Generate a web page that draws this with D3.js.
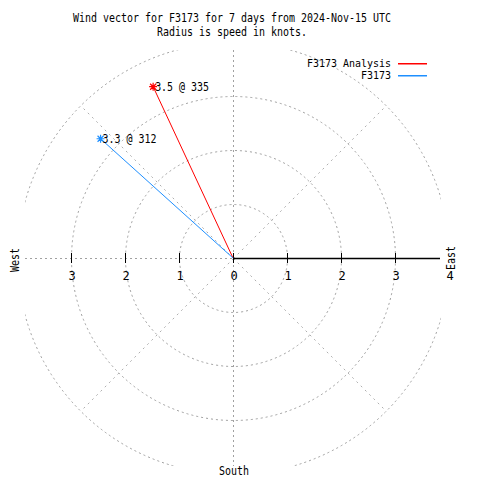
<!DOCTYPE html>
<html><head><meta charset="utf-8">
<script src="https://cdn.jsdelivr.net/npm/d3@7"></script>
<style>
html,body{margin:0;padding:0;background:#fff;}
text{font-family:"DejaVu Sans Mono","Liberation Mono",monospace;font-size:12px;fill:#000;}
</style></head>
<body>
<script>
// ---- data ----
const titleLines = ["Wind vector for F3173 for 7 days from 2024-Nov-15 UTC", "Radius is speed in knots."];
const seriesNames = ["F3173 Analysis", "F3173"];
const speeds = [3.5, 3.3];
const directions = [335, 312];
const vectorLabels = ["3.5 @ 335", "3.3 @ 312"];
const ringValues = [1, 2, 3, 4];
const eastTicks = [0, 1, 2, 3, 4];
const westTicks = [1, 2, 3];
const diagAngles = [45, 135, 225, 315];
const compassLabels = ["East", "West", "South"];
const seriesColors = ["#ff0000", "#1e8fff"];

// ---- layout ----
const W = 480, H = 480;
const cx = 233, cy = 258;
const half = 208;
const r = d3.scaleLinear().domain([0, 4]).range([0, 216]);
const grid = "#a0a0a0", dash = "2,3";

const svg = d3.select("body").append("svg").attr("width", W).attr("height", H);
svg.append("defs").append("clipPath").attr("id", "plotclip")
  .append("rect").attr("x", cx - half).attr("y", cy - half).attr("width", 2 * half).attr("height", 2 * half);

const pt = (spd, deg) => {
  const a = deg * Math.PI / 180;
  return [cx + r(spd) * Math.sin(a), cy - r(spd) * Math.cos(a)];
};

const g = svg.append("g").attr("clip-path", "url(#plotclip)");

// rings
g.selectAll("circle.ring").data(ringValues).join("circle").attr("class", "ring")
  .attr("cx", cx + 0.5).attr("cy", cy + 0.5).attr("r", d => r(d))
  .attr("fill", "none").attr("stroke", grid).attr("stroke-dasharray", dash);

// diagonal radials
g.selectAll("line.diag").data(diagAngles).join("line").attr("class", "diag")
  .attr("x1", cx + 0.5).attr("y1", cy + 0.5)
  .attr("x2", d => pt(4, d)[0] + 0.5).attr("y2", d => pt(4, d)[1] + 0.5)
  .attr("stroke", grid).attr("stroke-opacity", 0.85).attr("stroke-dasharray", "2,4");

// vertical dashed axis
g.append("line").attr("x1", cx + 0.5).attr("x2", cx + 0.5).attr("y1", cy - half).attr("y2", cy + half)
  .attr("stroke", grid).attr("stroke-dasharray", dash);
// west dashed axis
g.append("line").attr("x1", cx - half).attr("x2", cx).attr("y1", cy + 0.5).attr("y2", cy + 0.5)
  .attr("stroke", grid).attr("stroke-dasharray", dash);
// east solid axis
g.append("line").attr("x1", cx).attr("x2", cx + half - 1).attr("y1", cy + 0.5).attr("y2", cy + 0.5)
  .attr("stroke", "#000").attr("stroke-width", 1.3);

// ticks
const tk = svg.append("g");
tk.selectAll("line.e").data(eastTicks.filter(d => d < 4)).join("line").attr("class", "e")
  .attr("x1", d => cx + r(d) + 0.5).attr("x2", d => cx + r(d) + 0.5)
  .attr("y1", cy - 5).attr("y2", cy + 5).attr("stroke", "#000");
tk.selectAll("line.w").data(westTicks).join("line").attr("class", "w")
  .attr("x1", d => cx - r(d) + 0.5).attr("x2", d => cx - r(d) + 0.5)
  .attr("y1", cy - 5).attr("y2", cy + 5).attr("stroke", "#000");
tk.selectAll("text.e").data(eastTicks).join("text").attr("class", "e")
  .attr("x", d => cx + r(d) + 1).attr("y", cy + 22).attr("text-anchor", "middle").text(d => d);
tk.selectAll("text.w").data(westTicks).join("text").attr("class", "w")
  .attr("x", d => cx - r(d) + 1).attr("y", cy + 22).attr("text-anchor", "middle").text(d => d);

// compass labels
svg.append("text").attr("transform", `translate(${455},${cy}) rotate(-90)`)
  .attr("text-anchor", "middle").attr("textLength", 24).attr("lengthAdjust", "spacingAndGlyphs").text(compassLabels[0]);
svg.append("text").attr("transform", `translate(${19},${cy + 2}) rotate(-90)`)
  .attr("text-anchor", "middle").attr("textLength", 24).attr("lengthAdjust", "spacingAndGlyphs").text(compassLabels[1]);
svg.append("text").attr("x", cx + 1).attr("y", 475).attr("text-anchor", "middle")
  .attr("textLength", 30).attr("lengthAdjust", "spacingAndGlyphs").text(compassLabels[2]);

// title
svg.selectAll("text.title").data(titleLines).join("text").attr("class", "title")
  .attr("x", 232).attr("y", (d, i) => 22 + i * 14).attr("text-anchor", "middle")
  .attr("textLength", d => d.length * 6).attr("lengthAdjust", "spacingAndGlyphs")
  .text(d => d);

// vectors
const vg = svg.append("g");
seriesNames.forEach((name, i) => {
  const [x, y] = pt(speeds[i], directions[i]);
  vg.append("line").attr("x1", cx).attr("y1", cy).attr("x2", x).attr("y2", y)
    .attr("stroke", seriesColors[i]).attr("stroke-width", 1);
  const s = 4;
  vg.append("path")
    .attr("d", `M${x - s},${y}H${x + s}M${x},${y - s}V${y + s}M${x - s + 1},${y - s + 1}L${x + s - 1},${y + s - 1}M${x - s + 1},${y + s - 1}L${x + s - 1},${y - s + 1}`)
    .attr("stroke", seriesColors[i]).attr("stroke-width", 1.2);
  vg.append("text").attr("x", x + 2).attr("y", y + 4)
    .attr("textLength", vectorLabels[i].length * 6).attr("lengthAdjust", "spacingAndGlyphs")
    .text(vectorLabels[i]);
});

// legend
const lg = svg.append("g");
seriesNames.forEach((name, i) => {
  const y = 63 + i * 12;
  lg.append("text").attr("x", 391).attr("y", y + 4).attr("text-anchor", "end")
    .style("font-size", "10.5px")
    .attr("textLength", name.length * 6).attr("lengthAdjust", "spacingAndGlyphs").text(name);
  lg.append("rect").attr("x", 398).attr("width", 29).attr("y", y).attr("height", 1.5)
    .attr("fill", seriesColors[i]);
});
</script>
</body></html>
